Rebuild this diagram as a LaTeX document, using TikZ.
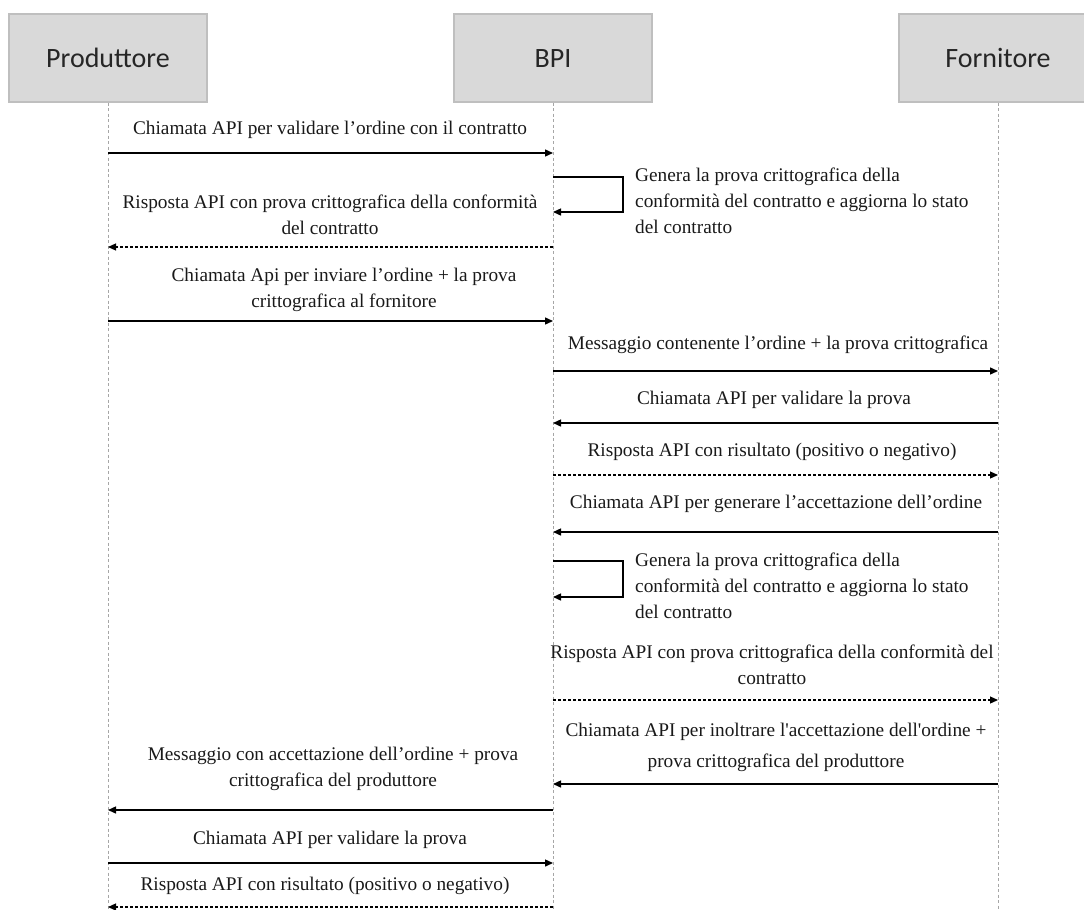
\documentclass[tikz,border=0pt]{standalone}
\usepackage{fontspec}
\setmainfont{Liberation Serif}
% plain family: keeps straight apostrophes as typed
\newfontfamily\labelfont{Liberation Serif}
\newfontfamily\hdrfont{Carlito}
\usetikzlibrary{arrows.meta}

\definecolor{boxfill}{HTML}{D9D9D9}
\definecolor{boxline}{HTML}{BFBFBF}
\definecolor{lifegray}{HTML}{A6A6A6}

\tikzset{
  actor/.style={draw=boxline, fill=boxfill, line width=1.4pt,
    minimum width=198pt, minimum height=88pt, inner sep=0pt,
    text height=19pt, text depth=1pt,
    font=\hdrfont\fontsize{28}{30}\selectfont, text=black!85},
  lifeline/.style={draw=lifegray, line width=0.8pt, dash pattern=on 3pt off 2.5pt},
  msg/.style={draw=black, line width=1.4pt,
    -{Triangle[length=8pt,width=7pt]}},
  reply/.style={msg, line width=1.2pt, dash pattern=on 3pt off 2pt},
  lbl/.style={inner sep=0pt, align=center,
    font=\labelfont\fontsize{19.3}{26}\selectfont, text=black!90},
  note/.style={lbl, align=left},
}

\begin{document}
\begin{tikzpicture}[x=1pt, y=-1pt]
\useasboundingbox (0,0) rectangle (1084,910);

% participants
\node[actor] (prod) at (108,58) {Produttore};
\node[actor] (bpi)  at (553,58) {BPI};
\begin{scope}
  \clip (0,0) rectangle (1084,910);
  \node[actor] (forn) at (998,58) {Fornitore};
\end{scope}

% lifeline ends
\coordinate (yend) at (0,910);
\draw[lifeline] (prod.south) -- (prod |- yend);
\draw[lifeline] (bpi.south)  -- (bpi |- yend);
\draw[lifeline] (forn.south) -- (forn |- yend);

% message levels
\coordinate (m1)  at (0,153);
\coordinate (l1a) at (0,177);
\coordinate (l1b) at (0,212);
\coordinate (m3)  at (0,247);
\coordinate (m4)  at (0,321);
\coordinate (m5)  at (0,371);
\coordinate (m6)  at (0,423);
\coordinate (m7)  at (0,475);
\coordinate (m8)  at (0,532);
\coordinate (l2a) at (0,561);
\coordinate (l2b) at (0,597);
\coordinate (m10) at (0,700);
\coordinate (m11) at (0,784);
\coordinate (m12) at (0,810);
\coordinate (m13) at (0,863);
\coordinate (m14) at (0,907);
\coordinate (loopx) at (623,0);

% Produttore -> BPI: validation request
\draw[msg] (prod |- m1) -- (bpi |- m1);
\node[lbl] (t1) at (330,130) {Chiamata API per validare l’ordine con il contratto};

% BPI self call: proof generation
\draw[msg] (bpi |- l1a) -- (loopx |- l1a) -- (loopx |- l1b) -- (bpi |- l1b);
\node[note] (t2) at (635,201) [anchor=west]
  {Genera la prova crittografica della\\conformità del contratto e aggiorna lo stato\\del contratto};

% BPI -> Produttore: response with proof
\draw[reply] (bpi |- m3) -- (prod |- m3);
\node[lbl] (t3) at (330,215) {Risposta API con prova crittografica della conformità\\del contratto};

% Produttore -> BPI: order + proof
\draw[msg] (prod |- m4) -- (bpi |- m4);
\node[lbl] (t4) at (344,290) {Chiamata Api per inviare l’ordine + la prova\\crittografica al fornitore};

% BPI -> Fornitore
\draw[msg] (bpi |- m5) -- (forn |- m5);
\node[lbl] (t5) at (778,345) {Messaggio contenente l’ordine + la prova crittografica};

% Fornitore -> BPI
\draw[msg] (forn |- m6) -- (bpi |- m6);
\node[lbl] (t6) at (774,400) {Chiamata API per validare la prova};

% BPI -> Fornitore (response)
\draw[reply] (bpi |- m7) -- (forn |- m7);
\node[lbl] (t7) at (772,452) {Risposta API con risultato (positivo o negativo)};

% Fornitore -> BPI
\draw[msg] (forn |- m8) -- (bpi |- m8);
\node[lbl] (t8) at (776,504) {Chiamata API per generare l’accettazione dell’ordine};

% BPI self call: second proof generation
\draw[msg] (bpi |- l2a) -- (loopx |- l2a) -- (loopx |- l2b) -- (bpi |- l2b);
\node[note] (t9) at (635,586) [anchor=west]
  {Genera la prova crittografica della\\conformità del contratto e aggiorna lo stato\\del contratto};

% BPI -> Fornitore (response with proof)
\draw[reply] (bpi |- m10) -- (forn |- m10);
\node[lbl] (t10) at (772,665) {Risposta API con prova crittografica della conformità del\\contratto};

% Fornitore -> BPI: forward acceptance
\draw[msg] (forn |- m11) -- (bpi |- m11);
\node[lbl] (t11) at (776,747) {Chiamata API per inoltrare l'accettazione dell'ordine +\\[5pt]prova crittografica del produttore};

% BPI -> Produttore
\draw[msg] (bpi |- m12) -- (prod |- m12);
\node[lbl] (t12) at (333,769) {Messaggio con accettazione dell’ordine + prova\\crittografica del produttore};

% Produttore -> BPI
\draw[msg] (prod |- m13) -- (bpi |- m13);
\node[lbl] (t13) at (330,840) {Chiamata API per validare la prova};

% BPI -> Produttore (response)
\draw[reply] (bpi |- m14) -- (prod |- m14);
\node[lbl] (t14) at (325,886) {Risposta API con risultato (positivo o negativo)};

\end{tikzpicture}
\end{document}
